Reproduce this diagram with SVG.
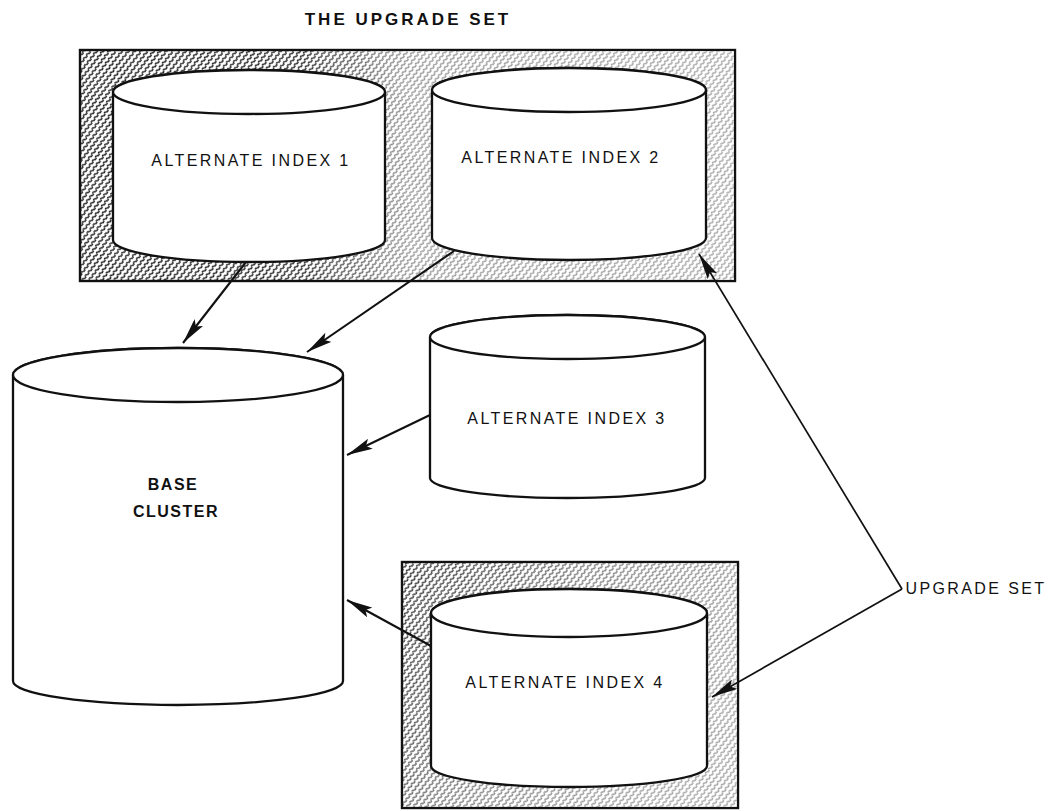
<svg xmlns="http://www.w3.org/2000/svg" width="1048" height="811" viewBox="0 0 1048 811">
  <defs>
    <style>
      .cyl { fill: #fff; stroke: #111; stroke-width: 2.3; stroke-linejoin: round; }
      .box { stroke: #111; stroke-width: 2.4; }
      .lbl { font-family: "Liberation Sans", Arial, sans-serif; font-size: 16px; letter-spacing: 2.4px; fill: #111; text-anchor: middle; }
      .bold { font-family: "Liberation Sans", Arial, sans-serif; font-weight: bold; fill: #111; text-anchor: middle; }
      .conn { fill: none; stroke: #111; stroke-width: 2.1; }
      .thin { fill: none; stroke: #111; stroke-width: 1.7; }
    </style>
    <!-- wavy diagonal hatching used for the upgrade-set frames -->
    <pattern id="hatch" width="5" height="5" patternUnits="userSpaceOnUse" patternTransform="rotate(-52)">
      <rect width="5" height="5" fill="#fff"/>
      <path d="M-1 2.5 q1.5 -1.7 3 0 t3 0 t3 0" fill="none" stroke="#111" stroke-width="1.3"/>
    </pattern>
    <linearGradient id="fadeTop" x1="0" y1="0" x2="1" y2="0">
      <stop offset="0" stop-color="#fff" stop-opacity="0"/>
      <stop offset="0.33" stop-color="#fff" stop-opacity="0.05"/>
      <stop offset="0.5" stop-color="#fff" stop-opacity="0.55"/>
      <stop offset="1" stop-color="#fff" stop-opacity="0.62"/>
    </linearGradient>
    <linearGradient id="fadeLow" x1="0" y1="0" x2="1" y2="0.4">
      <stop offset="0" stop-color="#fff" stop-opacity="0.1"/>
      <stop offset="0.5" stop-color="#fff" stop-opacity="0.45"/>
      <stop offset="1" stop-color="#fff" stop-opacity="0.6"/>
    </linearGradient>
    <marker id="head" viewBox="0 0 26 11" refX="26" refY="5.5" markerWidth="26" markerHeight="11" markerUnits="userSpaceOnUse" orient="auto">
      <path d="M0,0 L26,5.5 L0,11 L5,5.5 z" fill="#111"/>
    </marker>
  </defs>

  <rect width="1048" height="811" fill="#fff"/>

  <text class="bold" x="408" y="25" font-size="17" letter-spacing="3">THE UPGRADE SET</text>

  <!-- upper frame holding the first two indexes -->
  <g id="upgrade-frame-top">
    <rect class="box" x="80" y="50" width="655" height="231" fill="url(#hatch)"/>
    <rect x="81" y="51" width="653" height="229" fill="url(#fadeTop)"/>
  </g>

  <!-- lower frame holding the fourth index -->
  <g id="upgrade-frame-low">
    <rect class="box" x="402" y="562" width="336" height="246" fill="url(#hatch)"/>
    <rect x="403" y="563" width="334" height="244" fill="url(#fadeLow)"/>
  </g>

  <g id="aix1">
    <path class="cyl" d="M113 92 L113 240 A136 22 0 0 0 385 240 L385 92 A136 22 0 0 0 113 92 Z"/>
    <ellipse class="cyl" cx="249" cy="92" rx="136" ry="22"/>
    <text class="lbl" x="251" y="166">ALTERNATE INDEX 1</text>
  </g>

  <g id="aix2">
    <path class="cyl" d="M432 90 L432 238 A137 22 0 0 0 706 238 L706 90 A137 22 0 0 0 432 90 Z"/>
    <ellipse class="cyl" cx="569" cy="90" rx="137" ry="22"/>
    <text class="lbl" x="561" y="163">ALTERNATE INDEX 2</text>
  </g>

  <g id="base-cluster">
    <path class="cyl" d="M13 375 L13 681 A165 24 0 0 0 343 681 L343 375 A165 27 0 0 0 13 375 Z"/>
    <ellipse class="cyl" cx="178" cy="375" rx="165" ry="27"/>
    <text class="bold" x="173" y="490" font-size="16" letter-spacing="1.5">BASE</text>
    <text class="bold" x="176" y="517" font-size="16" letter-spacing="1.5">CLUSTER</text>
  </g>

  <g id="aix3">
    <path class="cyl" d="M430 337 L430 478 A137.5 20 0 0 0 705 478 L705 337 A137.5 22 0 0 0 430 337 Z"/>
    <ellipse class="cyl" cx="567.5" cy="337" rx="137.5" ry="22"/>
    <text class="lbl" x="567" y="424">ALTERNATE INDEX 3</text>
  </g>

  <g id="aix4">
    <path class="cyl" d="M431 613 L431 766 A138 21 0 0 0 707 766 L707 613 A138 24 0 0 0 431 613 Z"/>
    <ellipse class="cyl" cx="569" cy="613" rx="138" ry="24"/>
    <text class="lbl" x="565" y="688">ALTERNATE INDEX 4</text>
  </g>

  <g id="upgrade-label">
    <text class="lbl" x="976" y="594" font-size="14" letter-spacing="3">UPGRADE SET</text>
  </g>

  <g id="connectors">
    <line class="conn" x1="246" y1="262" x2="183" y2="343" marker-end="url(#head)"/>
    <line class="conn" x1="454" y1="251" x2="307" y2="352" marker-end="url(#head)"/>
    <line class="conn" x1="430" y1="415" x2="347" y2="455" marker-end="url(#head)"/>
    <line class="conn" x1="431" y1="646" x2="347" y2="600" marker-end="url(#head)"/>
    <line class="thin" x1="902" y1="589" x2="699" y2="254" marker-end="url(#head)"/>
    <line class="thin" x1="902" y1="589" x2="712" y2="697" marker-end="url(#head)"/>
  </g>
</svg>
